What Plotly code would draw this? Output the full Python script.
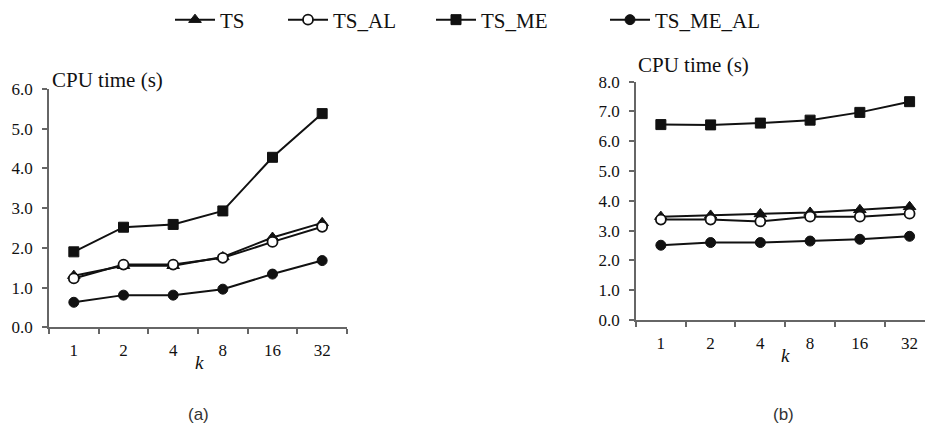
import plotly.graph_objects as go

# ---- data ----
k_labels = ["1", "2", "4", "8", "16", "32"]

# panel (a)
a_TS = [1.30, 1.55, 1.55, 1.77, 2.26, 2.63]
a_TS_AL = [1.23, 1.58, 1.58, 1.75, 2.15, 2.53]
a_TS_ME = [1.90, 2.52, 2.59, 2.93, 4.28, 5.38]
a_TS_ME_AL = [0.63, 0.81, 0.81, 0.96, 1.34, 1.68]

# panel (b)
b_TS = [3.47, 3.51, 3.56, 3.61, 3.70, 3.80]
b_TS_AL = [3.37, 3.37, 3.31, 3.47, 3.47, 3.57]
b_TS_ME = [6.56, 6.55, 6.61, 6.71, 6.97, 7.33]
b_TS_ME_AL = [2.51, 2.60, 2.60, 2.65, 2.71, 2.81]

series_names = ["TS", "TS_AL", "TS_ME", "TS_ME_AL"]

W, H = 925, 431
INK = "#111111"
AX = "#666666"
SERIF = "Liberation Serif, Times New Roman, serif"
SANS = "Liberation Sans, Arial, sans-serif"

styles = {
    "TS": dict(symbol="triangle-up", size=11, color=INK, line=dict(color=INK, width=1)),
    "TS_AL": dict(symbol="circle", size=10, color="white", line=dict(color=INK, width=1.8)),
    "TS_ME": dict(symbol="square", size=10, color=INK, line=dict(color=INK, width=1)),
    "TS_ME_AL": dict(symbol="circle", size=10, color=INK, line=dict(color=INK, width=1)),
}
legend_ids = {"TS": "legend", "TS_AL": "legend2", "TS_ME": "legend3", "TS_ME_AL": "legend4"}
legend_left_px = {"TS": 170, "TS_AL": 283, "TS_ME": 431, "TS_ME_AL": 605}

fig = go.Figure()
panel_a = dict(zip(series_names, [a_TS, a_TS_AL, a_TS_ME, a_TS_ME_AL]))
panel_b = dict(zip(series_names, [b_TS, b_TS_AL, b_TS_ME, b_TS_ME_AL]))

for name in series_names:
    fig.add_trace(go.Scatter(
        x=k_labels, y=panel_a[name], mode="lines+markers", name=name,
        line=dict(color=INK, width=2), marker=styles[name],
        xaxis="x", yaxis="y", legendgroup=name, showlegend=True,
        legend=legend_ids[name],
    ))
for name in series_names:
    fig.add_trace(go.Scatter(
        x=k_labels, y=panel_b[name], mode="lines+markers", name=name,
        line=dict(color=INK, width=2), marker=styles[name],
        xaxis="x2", yaxis="y2", legendgroup=name, showlegend=False,
    ))

def px_x(p):
    return p / W

def px_y(p):
    return 1 - p / H

xa_common = dict(
    type="category", showgrid=False, zeroline=False, showline=True, automargin=False,
    linecolor=AX, linewidth=1.5, ticks="outside", ticklen=5, tickwidth=1.5,
    tickcolor=AX, tickson="boundaries", ticklabelstandoff=7,
    tickfont=dict(family=SERIF, size=17, color=INK), fixedrange=True,
)
ya_common = dict(
    showgrid=False, zeroline=False, showline=True, automargin=False,
    linecolor=AX, linewidth=1.5,
    ticks="outside", ticklen=5, tickwidth=1.5, tickcolor=AX, tickformat=".1f",
    dtick=1, ticklabelstandoff=6,
    tickfont=dict(family=SERIF, size=17, color=INK), fixedrange=True,
)

legend_common = dict(
    orientation="h", y=px_y(20), yanchor="middle", xanchor="left",
    font=dict(family=SERIF, size=21, color=INK), bgcolor="rgba(0,0,0,0)",
    itemwidth=40,
)
layout_legends = {}
for name in series_names:
    layout_legends[legend_ids[name]] = dict(x=px_x(legend_left_px[name]), **legend_common)

fig.update_layout(
    template="none",
    width=W, height=H,
    margin=dict(l=0, r=0, t=0, b=0, pad=0, autoexpand=False),
    paper_bgcolor="white", plot_bgcolor="white",
    xaxis=dict(domain=[px_x(49), px_x(347)], range=[-0.5, 5.5], anchor="y", **xa_common),
    yaxis=dict(domain=[px_y(327.3), px_y(89)], range=[0, 6], anchor="x", **ya_common),
    xaxis2=dict(domain=[px_x(636), 1.0], range=[-0.5, 5.31], anchor="y2", **xa_common),
    yaxis2=dict(domain=[px_y(320), px_y(81.7)], range=[0, 8], anchor="x2", **ya_common),
    showlegend=True,
    **layout_legends,
)

for xp, yp in [(50, 80), (636, 65)]:
    fig.add_annotation(text="CPU time (s)", x=px_x(xp), y=px_y(yp), xref="paper", yref="paper",
                       xanchor="left", yanchor="middle", showarrow=False,
                       font=dict(family=SERIF, size=21, color=INK))
fig.add_annotation(text="<i>k</i>", x=px_x(199), y=px_y(362), xref="paper", yref="paper",
                   xanchor="center", yanchor="middle",
                   showarrow=False, font=dict(family=SERIF, size=19, color=INK))
fig.add_annotation(text="<i>k</i>", x=px_x(785), y=px_y(355), xref="paper", yref="paper",
                   xanchor="center", yanchor="middle",
                   showarrow=False, font=dict(family=SERIF, size=19, color=INK))
fig.add_annotation(text="(a)", x=px_x(198), y=px_y(414), xref="paper", yref="paper",
                   xanchor="center", yanchor="middle",
                   showarrow=False, font=dict(family=SANS, size=17, color="#333333"))
fig.add_annotation(text="(b)", x=px_x(783), y=px_y(414), xref="paper", yref="paper",
                   xanchor="center", yanchor="middle",
                   showarrow=False, font=dict(family=SANS, size=17, color="#333333"))

fig.write_html("out.html", post_script="document.body.style.margin='0';",
               config={"displayModeBar": False})
